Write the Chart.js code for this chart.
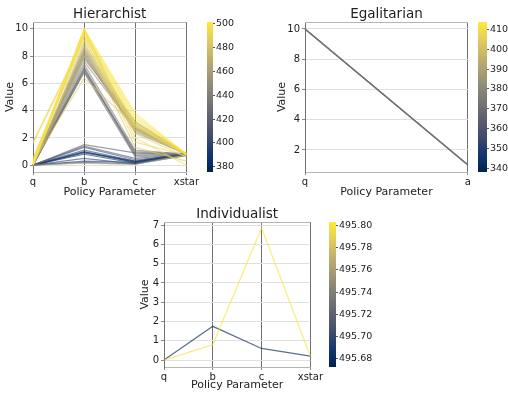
<!DOCTYPE html>
<html>
<head>
<meta charset="utf-8">
<script src="https://cdn.jsdelivr.net/npm/chart.js@4"></script>
<style>
  html, body { margin: 0; padding: 0; background: #ffffff; }
  #wrap { position: relative; width: 508px; height: 394px; overflow: hidden; }
  canvas { position: absolute; }
</style>
</head>
<body>
<div id="wrap">
  <canvas id="hier" width="200" height="200" style="left:0px;top:0px;width:200px;height:200px"></canvas>
  <canvas id="hierBar" width="58" height="200" style="left:200px;top:0px;width:58px;height:200px"></canvas>
  <canvas id="egal" width="212" height="200" style="left:260px;top:0px;width:212px;height:200px"></canvas>
  <canvas id="egalBar" width="36" height="200" style="left:472px;top:0px;width:36px;height:200px"></canvas>
  <canvas id="indiv" width="194" height="194" style="left:130px;top:200px;width:194px;height:194px"></canvas>
  <canvas id="indivBar" width="67" height="194" style="left:324px;top:200px;width:67px;height:194px"></canvas>
</div>
<script>
// ---- Hierarchist policies (one entry per policy) ----
const hierParams = ['q', 'b', 'c', 'xstar'];
const hierScore = [500, 499, 498, 496, 495, 493, 492, 490, 489, 488, 486, 484,
                   472, 470, 468, 465, 462, 460, 458, 456, 455, 452, 450, 447, 466,
                   438, 435, 432, 428, 425, 420,
                   418, 412, 405, 402, 400, 398, 395, 390, 388, 385, 380];
const hierQ = [0.1, 0.0, 0.2, 0.0, 0.3, 1.6, 0.4, 1.7, 0.0, 0.1, 0.2, 0.5,
               0.0, 0.0, 0.0, 0.0, 0.0, 0.0, 0.0, 0.0, 0.1, 0.0, 0.0, 0.0, 0.0,
               0.0, 0.0, 0.0, 0.0, 0.0, 0.0,
               0.0, 0.0, 0.0, 0.0, 0.0, 0.0, 0.0, 0.0, 0.0, 0.0, 0.0];
const hierB = [10.0, 9.9, 9.8, 9.7, 9.6, 9.2, 9.9, 9.4, 10.0, 9.5, 6.4, 9.1,
               8.9, 8.7, 8.6, 8.5, 7.9, 8.2, 8.3, 8.4, 8.0, 8.1, 7.8, 7.6, 0.15,
               7.4, 7.2, 6.9, 7.0, 6.8, 7.1,
               1.5, 1.4, 1.3, 0.2, 1.1, 0.5, 0.3, 1.0, 0.8, 0.9, 0.95];
const hierC = [3.8, 3.6, 3.4, 3.2, 2.9, 3.0, 2.0, 1.7, 2.3, 2.6, 2.8, 1.3,
               3.1, 3.0, 2.9, 2.8, 2.8, 2.7, 2.5, 2.6, 2.6, 2.4, 3.2, 2.7, 0.05,
               1.1, 0.9, 1.0, 0.8, 0.6, 0.7,
               0.9, 0.5, 0.4, 0.1, 0.3, 0.1, 0.2, 0.2, 0.15, 0.25, 0.3];
const hierXstar = [0.80, 0.80, 0.85, 0.80, 0.75, 0.80, 0.00, 0.70, 0.60, 0.80, 0.80, 0.30,
                   0.85, 0.80, 0.80, 0.80, 0.85, 0.80, 0.80, 0.85, 0.80, 0.80, 0.80, 0.85, 0.75,
                   0.80, 0.80, 0.85, 0.80, 0.80, 0.80,
                   0.80, 0.80, 0.75, 0.80, 0.85, 0.70, 0.90, 0.85, 0.80, 0.80, 0.85];
const hierTicks = [0, 2, 4, 6, 8, 10];
const hierBarTicks = [380, 400, 420, 440, 460, 480, 500];

// ---- Egalitarian policies (all share the same parameters) ----
const egalParams = ['q', 'a'];
const egalScore = [372, 365, 380, 355, 392, 345, 405, 340, 412];
const egalQ = [10, 10, 10, 10, 10, 10, 10, 10, 10];
const egalA = [1, 1, 1, 1, 1, 1, 1, 1, 1];
const egalTicks = [2, 4, 6, 8, 10];
const egalBarTicks = [340, 350, 360, 370, 380, 390, 400, 410];

// ---- Individualist policies ----
const indivParams = ['q', 'b', 'c', 'xstar'];
const indivScore = [495.80, 495.675];
const indivQ = [0.0, 0.0];
const indivB = [0.8, 1.75];
const indivC = [6.85, 0.6];
const indivXstar = [0.2, 0.2];
const indivTicks = [0, 1, 2, 3, 4, 5, 6, 7];
const indivBarTicks = [495.68, 495.70, 495.72, 495.74, 495.76, 495.78, 495.80];

// ---- styling ----
const FONT = 'DejaVu Sans';
const TEXT = '#222222';
const CIVIDIS = ['#00224e', '#123570', '#3b496c', '#575d6d', '#707173',
                 '#8a8779', '#a69d75', '#c4b56c', '#e4cf5b', '#fee838'];

function hexRgb(h) {
  return [parseInt(h.slice(1, 3), 16), parseInt(h.slice(3, 5), 16), parseInt(h.slice(5, 7), 16)];
}
function cividis(t, alpha) {
  t = Math.max(0, Math.min(1, t));
  const p = t * (CIVIDIS.length - 1);
  const i = Math.min(Math.floor(p), CIVIDIS.length - 2);
  const f = p - i;
  const a = hexRgb(CIVIDIS[i]), b = hexRgb(CIVIDIS[i + 1]);
  const c = a.map((v, k) => Math.round(v + (b[k] - v) * f));
  return `rgba(${c[0]},${c[1]},${c[2]},${alpha})`;
}

// outline of the axes box (top edge)
const frame = {
  id: 'frame',
  afterDraw(chart) {
    const { ctx, chartArea: a } = chart;
    ctx.save();
    ctx.strokeStyle = '#b5b5b5';
    ctx.lineWidth = 1;
    ctx.beginPath();
    ctx.moveTo(a.left, Math.round(a.top) + 0.5);
    ctx.lineTo(a.right, Math.round(a.top) + 0.5);
    ctx.stroke();
    ctx.restore();
  }
};

function buildSets(columns, scores, lo, hi, alpha, width) {
  return scores.map((s, i) => ({
    data: columns.map(col => col[i]),
    borderColor: cividis((s - lo) / (hi - lo), alpha),
    borderWidth: width,
    pointRadius: 0,
    tension: 0,
    fill: false
  }));
}

function parallelChart(id, o) {
  return new Chart(document.getElementById(id), {
    type: 'line',
    data: { labels: o.labels, datasets: o.datasets },
    options: {
      responsive: false,
      animation: false,
      devicePixelRatio: 1,
      events: [],
      layout: { padding: { left: 0, right: o.padRight, top: 0, bottom: 0 } },
      plugins: {
        legend: { display: false },
        tooltip: { enabled: false },
        title: {
          display: true, text: o.title, fullSize: false, color: TEXT,
          font: { family: FONT, size: 13.5, weight: 'normal', lineHeight: 1.2 },
          padding: { top: 6, bottom: 22 - 6 - 16.2 }
        }
      },
      scales: {
        x: {
          type: 'category', offset: false,
          grid: { color: '#707070', lineWidth: 1, tickLength: 3, tickColor: '#8a8a8a' },
          border: { color: '#b5b5b5' },
          ticks: { color: TEXT, font: { family: FONT, size: 10, lineHeight: 1.2 }, padding: 1, maxRotation: 0, autoSkip: false },
          title: { display: true, text: 'Policy Parameter', color: TEXT,
                   font: { family: FONT, size: 11, lineHeight: 1.2 }, padding: { top: 0, bottom: o.xTitlePad } },
          afterFit: s => { s.height = o.xh; }
        },
        y: {
          type: 'linear', min: o.min, max: o.max,
          afterBuildTicks: s => { s.ticks = o.ticks.map(v => ({ value: v })); },
          grid: { color: '#e0e0e0', lineWidth: 1, tickLength: 3, tickColor: '#8a8a8a' },
          border: { color: '#707070' },
          ticks: { color: TEXT, font: { family: FONT, size: 10, lineHeight: 1.2 }, padding: 2 },
          title: { display: true, text: 'Value', color: TEXT,
                   font: { family: FONT, size: 11, lineHeight: 1.2 }, padding: { top: o.yTitlePad, bottom: 0 } },
          afterFit: s => { s.width = o.yw; }
        }
      }
    },
    plugins: [frame]
  });
}

function colorbar(id, o) {
  const gradient = {
    id: 'gradient',
    beforeDatasetsDraw(chart) {
      const { ctx, chartArea: a } = chart;
      const g = ctx.createLinearGradient(0, a.bottom, 0, a.top);
      CIVIDIS.forEach((c, i) => g.addColorStop(i / (CIVIDIS.length - 1), c));
      ctx.save();
      ctx.fillStyle = g;
      ctx.fillRect(a.left, a.top, a.right - a.left, a.bottom - a.top);
      ctx.restore();
    }
  };
  return new Chart(document.getElementById(id), {
    type: 'line',
    data: { labels: [], datasets: [] },
    options: {
      responsive: false,
      animation: false,
      devicePixelRatio: 1,
      events: [],
      layout: { padding: { left: o.padLeft, right: 0, top: o.top, bottom: o.bottom } },
      plugins: { legend: { display: false }, tooltip: { enabled: false } },
      scales: {
        x: { display: false },
        y: {
          type: 'linear', position: 'right', min: o.min, max: o.max,
          afterBuildTicks: s => { s.ticks = o.ticks.map(v => ({ value: v })); },
          grid: { drawOnChartArea: false, tickLength: 2, tickColor: '#555555' },
          border: { display: false },
          ticks: { color: TEXT, font: { family: FONT, size: 9.5 }, padding: 1,
                   callback: v => o.digits ? Number(v).toFixed(o.digits) : String(v) },
          afterFit: s => { s.width = o.w; }
        }
      }
    },
    plugins: [gradient]
  });
}

// Hierarchist
const HLO = 375.6, HHI = 501.4;
parallelChart('hier', {
  title: 'Hierarchist', labels: hierParams,
  datasets: buildSets([hierQ, hierB, hierC, hierXstar], hierScore, HLO, HHI, 0.6, 1.2),
  min: -0.5, max: 10.5, ticks: hierTicks,
  yw: 33, padRight: 4, xh: 28, xTitlePad: 1.4, yTitlePad: 3.4
});
colorbar('hierBar', { min: HLO, max: HHI, ticks: hierBarTicks, padLeft: 7, top: 22, bottom: 28, w: 45, digits: 0 });

// Egalitarian
const ELO = 338, EHI = 413.8;
parallelChart('egal', {
  title: 'Egalitarian', labels: egalParams,
  datasets: buildSets([egalQ, egalA], egalScore, ELO, EHI, 0.35, 1.2),
  min: 0.54, max: 10.46, ticks: egalTicks,
  yw: 45, padRight: 3, xh: 28, xTitlePad: 1.4, yTitlePad: 15.4
});
colorbar('egalBar', { min: ELO, max: EHI, ticks: egalBarTicks, padLeft: 6, top: 22, bottom: 28, w: 21, digits: 0 });

// Individualist
const ILO = 495.6728, IHI = 495.803;
parallelChart('indiv', {
  title: 'Individualist', labels: indivParams,
  datasets: buildSets([indivQ, indivB, indivC, indivXstar], indivScore, ILO, IHI, 0.65, 1.3),
  min: -0.36, max: 7.16, ticks: indivTicks,
  yw: 34, padRight: 3, xh: 27, xTitlePad: 2.4, yTitlePad: 8.4
});
colorbar('indivBar', { min: ILO, max: IHI, ticks: indivBarTicks, padLeft: 5, top: 22, bottom: 27, w: 55, digits: 2 });
</script>
</body>
</html>
